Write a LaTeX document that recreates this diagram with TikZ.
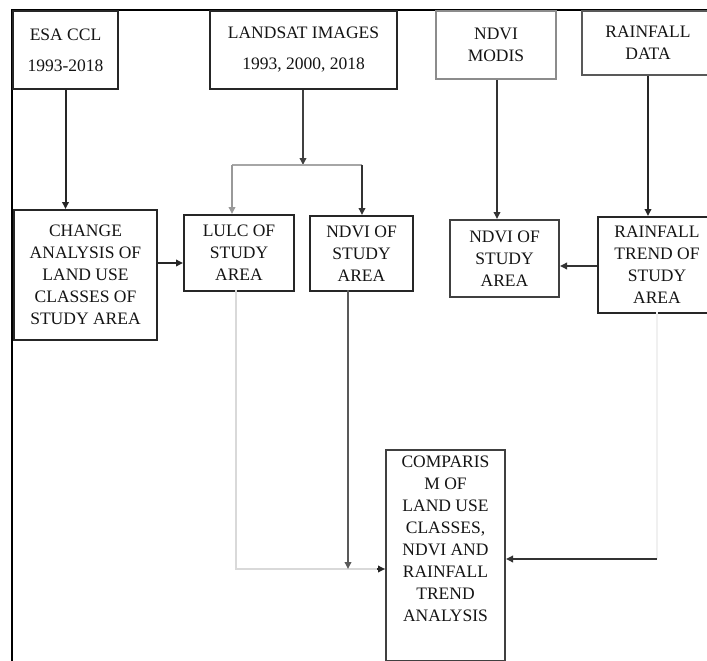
\documentclass[tikz,border=0pt]{standalone}
\usepackage{fontspec}
\setmainfont{Liberation Serif}
\usetikzlibrary{arrows.meta}
\begin{document}
\begin{tikzpicture}[x=1pt,y=-1pt,
  box/.style={draw=#1, line width=2pt, anchor=north west, align=center, inner sep=0pt,
    font=\fontsize{17.5}{22}\selectfont, text=black!92},
  box/.default=black!85,
  arr/.style={-{Triangle[length=7pt,width=6.5pt]}, line width=2pt},
  ln/.style={line width=2pt}]
\useasboundingbox (0,0) rectangle (707,661);
\clip (0,0) rectangle (707,661);
\fill[white] (0,0) rectangle (707,661);
% frame
\draw[line width=2.4pt, black] (12,661) -- (12,10) -- (710,10);
% boxes
\node[box, minimum width=105pt, minimum height=78pt] (esa) at (12,10) {ESA CCL\\[9pt]1993-2018};
\node[box, minimum width=187pt, minimum height=78pt] (landsat) at (209,10) {LANDSAT IMAGES\\[9pt]1993, 2000, 2018};
\node[box=black!45, minimum width=120pt, minimum height=68pt] (modis) at (435,10) {NDVI\\MODIS};
\node[box=black!65, minimum width=132pt, minimum height=64pt] (raindata) at (581,10) {RAINFALL\\DATA};
\node[box, minimum width=143pt, minimum height=130pt] (change) at (13,209) {CHANGE\\ANALYSIS OF\\LAND USE\\CLASSES OF\\STUDY AREA};
\node[box, minimum width=110pt, minimum height=76pt] (lulc) at (183,214) {LULC OF\\STUDY\\AREA};
\node[box, minimum width=103pt, minimum height=75pt] (ndvil) at (309,215) {NDVI OF\\STUDY\\AREA};
\node[box=black!75, minimum width=109pt, minimum height=77pt] (ndvir) at (449,219) {NDVI OF\\STUDY\\AREA};
\node[box, minimum width=118pt, minimum height=96pt] (raintrend) at (597,216) {RAINFALL\\TREND OF\\STUDY\\AREA};
\node[box=black!75, minimum width=119pt, minimum height=211pt] (comp) at (385,449) {COMPARIS\\M OF\\LAND USE\\CLASSES,\\NDVI AND\\RAINFALL\\TREND\\ANALYSIS\\[12pt]};
% coordinates
\coordinate (split) at (303,165);
\coordinate (splitL) at (232,165);
\coordinate (splitR) at (362,165);
\coordinate (lulcdown) at (236,290);
\coordinate (ndvildown) at (348,290);
\path (comp.west) ++(0,13.5) coordinate (cin);
\path (comp.east) ++(0,3.5) coordinate (cinr);
\coordinate (rtdown) at (657,312);
% connectors
\draw[arr, black!85] (esa.south) -- (esa.south |- change.north);
\draw[arr, black!75] (landsat.south -| split) -- (split);
\draw[ln, black!35] (splitL) -- (splitR);
\draw[arr, black!40] (splitL) -- (splitL |- lulc.north);
\draw[arr, black!80] (splitR) -- (splitR |- ndvil.north);
\draw[ln, black!40] (change.east |- 0,263) -- ++(18,0);
\draw[arr, black!85] (change.east |- 0,263) -- (lulc.west |- 0,263);
\draw[arr, black!80] (modis.south -| 497,0) -- (ndvir.north -| 497,0);
\draw[arr, black!85] (raindata.south -| 648,0) -- (raintrend.north -| 648,0);
\draw[arr, black!80] (raintrend.west |- 0,266) -- (ndvir.east |- 0,266);
\draw[ln, black!15] (lulcdown) |- (cin);
\draw[-{Triangle[length=7pt,width=6.5pt]}, line width=2pt, black!85] ([xshift=-8pt]cin) -- (cin);
\draw[arr, black!65] (ndvildown) -- (ndvildown |- cin);
\draw[line width=1.5pt, black!6] (rtdown) -- (rtdown |- cinr);
\draw[arr, black!80] (rtdown |- cinr) -- (cinr);
\end{tikzpicture}
\end{document}
